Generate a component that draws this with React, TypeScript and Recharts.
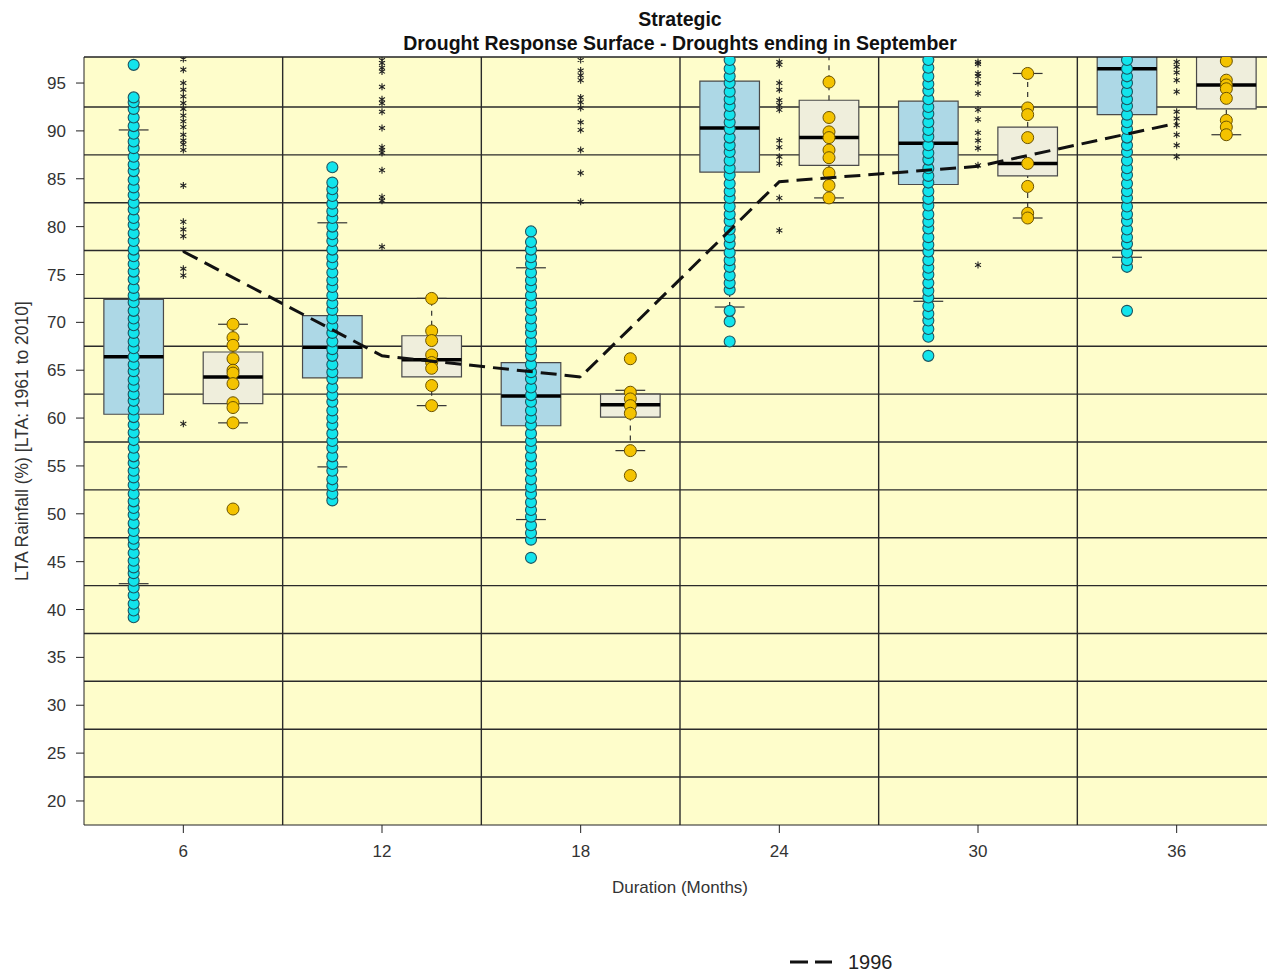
import React from 'react';
import {
  ComposedChart, Scatter, XAxis, YAxis, CartesianGrid, ReferenceArea, ReferenceLine,
} from 'recharts';

const durations = [6, 12, 18, 24, 30, 36];
const yTicks = [20, 25, 30, 35, 40, 45, 50, 55, 60, 65, 70, 75, 80, 85, 90, 95];
const hGrid = [22.5, 27.5, 32.5, 37.5, 42.5, 47.5, 52.5, 57.5, 62.5, 67.5, 72.5, 77.5, 82.5, 87.5, 92.5];
const vGrid = [9, 15, 21, 27, 33];

// simulated droughts (blue boxes)
const simX = [4.5, 10.5, 16.5, 22.5, 28.5, 34.5];
const simLow = [42.7, 54.9, 49.4, 71.6, 72.2, 76.8];
const simQ1 = [60.4, 64.2, 59.2, 85.7, 84.4, 91.7];
const simMed = [66.4, 67.4, 62.3, 90.3, 88.7, 96.5];
const simQ3 = [72.4, 70.7, 65.8, 95.2, 93.1, 99];
const simHigh = [90.1, 80.4, 75.7, 99, 99, 99];

// historic droughts (beige boxes)
const histX = [7.5, 13.5, 19.5, 25.5, 31.5, 37.5];
const histLow = [59.5, 61.3, 56.6, 83.0, 80.9, 89.6];
const histQ1 = [61.5, 64.3, 60.1, 86.4, 85.3, 92.3];
const histMed = [64.3, 66.1, 61.4, 89.3, 86.6, 94.8];
const histQ3 = [66.9, 68.6, 62.5, 93.2, 90.4, 99];
const histHigh = [69.8, 72.5, 62.9, 99, 96.0, 99];

const cyan6 = [39.2, 39.9, 40.6, 41.5, 42.3, 43.0, 43.8, 44.4, 45.1, 45.9, 46.8, 47.4, 48.2, 49.0, 49.9, 50.6, 51.3, 52.1, 53.0, 53.8, 54.5, 55.3, 56.0, 56.9, 57.7, 58.5, 59.3, 60.1, 60.9, 61.8, 62.5, 63.3, 64.0, 64.9, 65.6, 66.4, 67.3, 68.0, 68.9, 69.7, 70.4, 71.2, 72.1, 72.8, 73.6, 74.5, 75.3, 76.1, 76.9, 77.6, 78.5, 79.3, 80.2, 80.9, 81.8, 82.5, 83.3, 84.1, 84.9, 85.8, 86.5, 87.3, 88.2, 88.9, 89.7, 90.5, 91.4, 92.3, 93.0, 93.5, 96.9];
const cyan12 = [51.4, 52.1, 52.9, 53.6, 54.5, 55.2, 56.0, 56.9, 57.6, 58.4, 59.3, 60.0, 60.8, 61.7, 62.4, 63.2, 64.1, 64.8, 65.6, 66.5, 67.2, 68.0, 68.9, 69.6, 70.4, 71.3, 72.0, 72.8, 73.7, 74.4, 75.2, 76.1, 76.8, 77.6, 78.5, 79.2, 80.0, 80.9, 81.6, 82.4, 83.2, 83.9, 84.6, 86.2];
const cyan18 = [45.4, 47.3, 48.0, 48.8, 49.7, 50.4, 51.2, 52.1, 52.8, 53.6, 54.5, 55.2, 56.0, 56.9, 57.6, 58.4, 59.3, 60.0, 60.8, 61.7, 62.4, 63.2, 64.1, 64.8, 65.6, 66.5, 67.2, 68.0, 68.9, 69.6, 70.4, 71.3, 72.0, 72.8, 73.7, 74.4, 75.2, 76.1, 76.8, 77.6, 78.4, 79.5];
const cyan24 = [68.0, 70.1, 71.2, 73.4, 74.1, 74.9, 75.8, 76.5, 77.3, 78.2, 78.9, 79.7, 80.6, 81.3, 82.1, 83.0, 83.7, 84.5, 85.4, 86.1, 86.9, 87.8, 88.5, 89.3, 90.2, 90.9, 91.7, 92.6, 93.3, 94.1, 95.0, 95.7, 96.5, 97.4];
const cyan30 = [66.5, 68.5, 69.3, 70.2, 70.9, 71.7, 72.6, 73.3, 74.1, 75.0, 75.7, 76.5, 77.4, 78.1, 78.9, 79.8, 80.5, 81.3, 82.2, 82.9, 83.7, 84.6, 85.3, 86.1, 87.0, 87.7, 88.5, 89.4, 90.1, 90.9, 91.8, 92.5, 93.3, 94.2, 94.9, 95.7, 96.6, 97.4];
const cyan36 = [71.2, 75.8, 76.5, 77.3, 78.2, 78.9, 79.7, 80.6, 81.3, 82.1, 83.0, 83.7, 84.5, 85.4, 86.1, 86.9, 87.8, 88.5, 89.3, 90.2, 90.9, 91.7, 92.6, 93.3, 94.1, 95.0, 95.7, 96.5, 97.4];

const gold7 = [69.8, 68.4, 67.6, 66.2, 65.0, 64.7, 63.6, 61.6, 61.1, 59.5, 50.5];
const gold13 = [72.5, 69.1, 68.1, 66.6, 65.8, 65.2, 63.4, 61.3];
const gold19 = [66.2, 62.7, 62.0, 61.3, 60.5, 56.6, 54.0];
const gold25 = [95.1, 91.4, 89.9, 89.3, 88.0, 87.2, 85.6, 84.3, 83.0];
const gold31 = [96.0, 92.4, 91.7, 89.3, 86.6, 84.2, 81.4, 80.9];
const gold37 = [97.3, 95.3, 94.8, 94.4, 93.4, 91.1, 90.4, 89.6];

const star6 = [97.5, 96.4, 95.0, 94.3, 93.6, 92.9, 92.3, 91.6, 91.0, 90.4, 89.6, 89.0, 88.6, 88.0, 84.3, 80.5, 79.7, 79.0, 75.6, 74.9, 59.4];
const star12 = [97.4, 97.1, 96.6, 96.2, 94.6, 93.3, 92.9, 92.0, 90.3, 88.3, 88.0, 87.7, 85.9, 83.1, 82.7, 77.9];
const star18 = [97.4, 96.3, 95.8, 95.3, 93.5, 93.0, 92.4, 90.9, 90.1, 88.0, 85.6, 82.6];
const star24 = [97.2, 96.9, 95.0, 94.3, 93.2, 92.7, 92.2, 89.0, 88.3, 87.3, 86.6, 83.0, 79.6];
const star30 = [97.2, 97.0, 96.0, 95.7, 95.0, 93.9, 92.2, 91.2, 89.8, 89.0, 88.2, 86.4, 76.0];
const star36 = [97.2, 96.7, 96.1, 95.3, 94.1, 92.0, 91.3, 90.6, 89.6, 88.5, 87.3];

const line1996 = [77.4, 66.5, 64.3, 84.7, 86.3, 90.8];

const cyanData = [cyan6, cyan12, cyan18, cyan24, cyan30, cyan36]
  .flatMap((col, i) => col.map(y => ({ x: simX[i], y })));
const goldData = [gold7, gold13, gold19, gold25, gold31, gold37]
  .flatMap((col, i) => col.map(y => ({ x: histX[i], y })));
const starData = [star6, star12, star18, star24, star30, star36]
  .flatMap((col, i) => col.map(y => ({ x: durations[i], y })));
const lineData = durations.map((x, i) => ({ x, y: line1996[i] }));

const Y_DOMAIN: [number, number] = [17.49, 97.72];
const BOX_HALF = 0.9;
const CAP_HALF = 0.45;
const FONT = '"Liberation Sans", Arial, Helvetica, sans-serif';

const Cyan = (p: any) => <circle cx={p.cx} cy={p.cy} r={5.5} fill="#12E4EC" stroke="#1d5561" strokeWidth={1.1} />;
const Gold = (p: any) => <circle cx={p.cx} cy={p.cy} r={6} fill="#F4C300" stroke="#6b5300" strokeWidth={1} />;
const Star = (p: any) => (
  <path
    d={`M${p.cx},${p.cy - 3.5}L${p.cx},${p.cy + 3.5}M${p.cx - 3},${p.cy - 1.8}L${p.cx + 3},${p.cy + 1.8}M${p.cx - 3},${p.cy + 1.8}L${p.cx + 3},${p.cy - 1.8}`}
    stroke="#222" strokeWidth={1.1} fill="none"
  />
);
const Tiny = (p: any) => <circle cx={p.cx} cy={p.cy} r={1} fill="#111" />;

function boxes(xs: number[], lo: number[], q1: number[], med: number[], q3: number[], hi: number[], fill: string, key: string) {
  const out: React.ReactNode[] = [];
  xs.forEach((x, i) => {
    out.push(
      <ReferenceLine key={`${key}-wu${i}`} segment={[{ x, y: q3[i] }, { x, y: hi[i] }]} stroke="#333" strokeWidth={1.2} strokeDasharray="5 5" ifOverflow="hidden" />,
      <ReferenceLine key={`${key}-wl${i}`} segment={[{ x, y: lo[i] }, { x, y: q1[i] }]} stroke="#333" strokeWidth={1.2} strokeDasharray="5 5" ifOverflow="hidden" />,
      <ReferenceLine key={`${key}-cu${i}`} segment={[{ x: x - CAP_HALF, y: hi[i] }, { x: x + CAP_HALF, y: hi[i] }]} stroke="#333" strokeWidth={1.2} ifOverflow="hidden" />,
      <ReferenceLine key={`${key}-cl${i}`} segment={[{ x: x - CAP_HALF, y: lo[i] }, { x: x + CAP_HALF, y: lo[i] }]} stroke="#333" strokeWidth={1.2} ifOverflow="hidden" />,
      <ReferenceArea key={`${key}-b${i}`} x1={x - BOX_HALF} x2={x + BOX_HALF} y1={q1[i]} y2={q3[i]} fill={fill} fillOpacity={1} stroke="#4a4a4a" strokeWidth={1.2} ifOverflow="hidden" />,
      <ReferenceLine key={`${key}-m${i}`} segment={[{ x: x - BOX_HALF, y: med[i] }, { x: x + BOX_HALF, y: med[i] }]} stroke="#000" strokeWidth={3.5} ifOverflow="hidden" />,
    );
  });
  return out;
}

export default function App() {
  return (
    <div style={{ position: 'absolute', left: 0, top: 0, width: 1267, height: 974, overflow: 'hidden', background: '#fff', fontFamily: FONT }}>
      <div style={{ position: 'absolute', left: 84, top: 7, width: 1192, textAlign: 'center', fontWeight: 'bold', fontSize: 19.5, lineHeight: '24px', color: '#111' }}>
        <div>Strategic</div>
        <div>Drought Response Surface - Droughts ending in September</div>
      </div>
      <ComposedChart width={1290} height={974} margin={{ top: 57, right: 14, bottom: 119, left: 24 }}>
        <CartesianGrid fill="#FEFDCB" stroke="#2a2a2a" strokeWidth={1.4} horizontalValues={hGrid} verticalValues={vGrid} />
        <XAxis
          type="number" dataKey="x" domain={[3, 39]} ticks={durations} allowDataOverflow
          height={30} tickSize={8} tickMargin={12}
          tick={{ fontSize: 17, fill: '#333', fontFamily: FONT }}
          stroke="#222"
          label={{ value: 'Duration (Months)', position: 'bottom', offset: 26, style: { fontSize: 17, fill: '#333', fontFamily: FONT } }}
        />
        <YAxis
          type="number" dataKey="y" domain={Y_DOMAIN} ticks={yTicks} allowDataOverflow
          width={60} tickSize={8} tickMargin={10}
          tick={{ fontSize: 17, fill: '#333', fontFamily: FONT }}
          stroke="#222"
          label={{ value: 'LTA Rainfall (%) [LTA: 1961 to 2010]', angle: -90, position: 'insideLeft', offset: -2, style: { textAnchor: 'middle', fontSize: 17.5, fill: '#333', fontFamily: FONT } }}
        />
        {boxes(simX, simLow, simQ1, simMed, simQ3, simHigh, '#ADD8E6', 'sim')}
        {boxes(histX, histLow, histQ1, histMed, histQ3, histHigh, '#EFEEDC', 'hist')}
        <ReferenceLine y={Y_DOMAIN[1]} stroke="#222" strokeWidth={1.5} />
        <Scatter data={starData} shape={Star} isAnimationActive={false} />
        <Scatter data={cyanData} shape={Cyan} isAnimationActive={false} />
        <Scatter data={goldData} shape={Gold} isAnimationActive={false} />
        <Scatter
          data={lineData} shape={Tiny} isAnimationActive={false}
          line={{ stroke: '#111', strokeWidth: 3, strokeDasharray: '16 8' }} lineType="joint"
        />
      </ComposedChart>
      <div style={{ position: 'absolute', left: 788, top: 948, display: 'flex', alignItems: 'center', fontSize: 20, color: '#222' }}>
        <svg width={48} height={28}>
          <line x1={2} y1={14} x2={44} y2={14} stroke="#111" strokeWidth={3} strokeDasharray="18 7" />
        </svg>
        <span style={{ marginLeft: 12 }}>1996</span>
      </div>
    </div>
  );
}
